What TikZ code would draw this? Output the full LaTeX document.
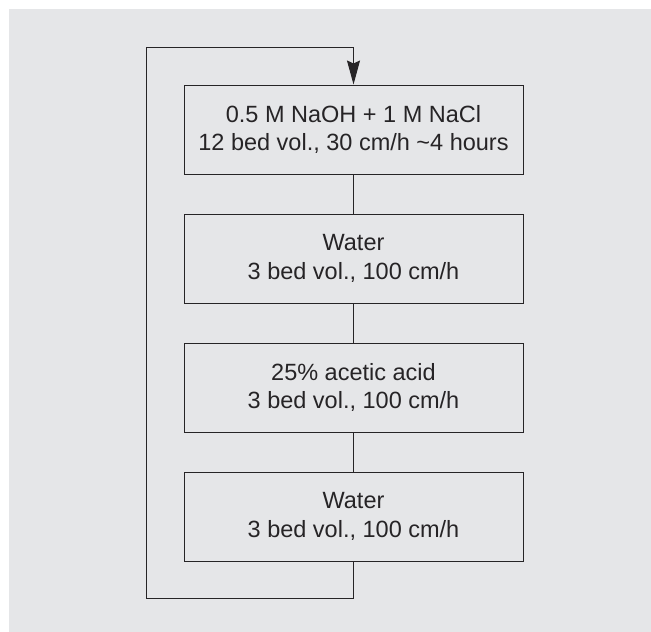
\documentclass[tikz,border=0pt]{standalone}
\usepackage{fontspec}
\setmainfont{Liberation Sans}
\usetikzlibrary{positioning, arrows.meta}
\definecolor{panel}{HTML}{E5E6E8}
\definecolor{ink}{HTML}{262426}
\tikzset{
  stp/.style  = {draw=ink, line width=1pt, rectangle, align=center,
                 minimum width=339pt, minimum height=89pt, inner sep=0pt,
                 font=\fontsize{23.5}{28.5}\selectfont, text=ink},
  ln/.style   = {draw=ink, line width=1pt},
  ar/.style   = {ln, -{Stealth[length=24pt, width=13pt, inset=3pt]}},
}
\begin{document}
\begin{tikzpicture}[x=1pt, y=1pt, node distance=39pt]
  % page and panel
  \useasboundingbox (0,0) rectangle (651,-632);
  \fill[panel] (9,-9) rectangle (665,-645);
  % cleaning steps
  \node[stp] (naoh) at (353.5,-129.5) {0.5 M NaOH + 1 M NaCl\\12 bed vol., 30 cm/h \textasciitilde4 hours};
  \node[stp, below=of naoh] (wat1) {Water\\3 bed vol., 100 cm/h};
  \node[stp, below=of wat1] (acid) {25\% acetic acid\\3 bed vol., 100 cm/h};
  \node[stp, below=of acid] (wat2) {Water\\3 bed vol., 100 cm/h};
  \draw[ln] (naoh) -- (wat1);
  \draw[ln] (wat1) -- (acid);
  \draw[ln] (acid) -- (wat2);
  % return loop
  \coordinate (loopL) at (146,-598);
  \coordinate (loopT) at (353.5,-47);
  \draw[ar] (wat2.south) |- (loopL) |- (loopT) -- (naoh.north);
\end{tikzpicture}
\end{document}
